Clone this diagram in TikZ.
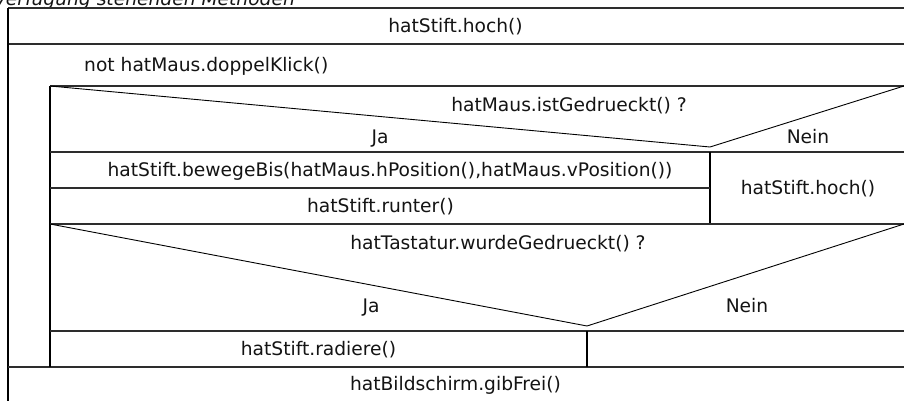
\documentclass[tikz,border=0pt]{standalone}
\usepackage{fontspec}
\setmainfont{DejaVu Sans}
\begin{document}
\begin{tikzpicture}[x=1pt,y=-1pt,
  frame/.style={line width=1.3pt,draw={rgb,255:red,45;green,45;blue,45}},
  vline/.style={line width=1.2pt,draw=black},
  diag/.style={line width=0.9pt,draw=black},
  txt/.style={anchor=base,inner sep=0pt,font=\fontsize{18.67}{22}\selectfont,text={rgb,255:red,20;green,20;blue,20}},
  txtl/.style={txt,anchor=base west}]
\useasboundingbox (0,0) rectangle (904,401);
\clip (0,0) rectangle (904,401);
\fill[white] (0,0) rectangle (904,401);
% header text (cut off)
\node[txt,anchor=base west,font=\fontsize{18.67}{22}\selectfont\itshape] (hdr) at (-6,5.5) {Verfügung stehenden Methoden};
% outer frame
\draw[frame] (8,8) -- (905,8);
\draw[frame] (8,44) -- (905,44);
\draw[vline] (8,8) -- (8,402);
\draw[frame] (8,367) -- (905,367);
% loop body left edge
\draw[vline] (50,86) -- (50,367);
% first if
\draw[frame] (50,86) -- (905,86);
\draw[diag] (50,86) -- (710,147) -- (904,86);
\draw[frame] (50,152) -- (905,152);
\draw[vline] (710,152) -- (710,224);
\draw[frame] (50,188) -- (710,188);
\draw[frame] (50,224) -- (905,224);
% second if
\draw[diag] (50,224) -- (587,326) -- (904,224);
\draw[frame] (50,331) -- (905,331);
\draw[vline] (587,331) -- (587,367);
% texts
\node[txt] (t1) at (455.5,32.8) {hatStift.hoch()};
\node[txtl] (loop) at (84,72) {not hatMaus.doppelKlick()};
\node[txt] (c1) at (569,111) {hatMaus.istGedrueckt() ?};
\node[txt] (ja1) at (380,143) {Ja};
\node[txt] (nein1) at (808,143) {Nein};
\node[txt] (s1) at (390,176) {hatStift.bewegeBis(hatMaus.hPosition(),hatMaus.vPosition())};
\node[txt] (s2) at (380.5,212.8) {hatStift.runter()};
\node[txt] (s3) at (808,194.8) {hatStift.hoch()};
\node[txt] (c2) at (498,249) {hatTastatur.wurdeGedrueckt() ?};
\node[txt] (ja2) at (371,312) {Ja};
\node[txt] (nein2) at (747,312) {Nein};
\node[txt] (s4) at (318.5,355.8) {hatStift.radiere()};
\node[txt] (s5) at (455.5,390) {hatBildschirm.gibFrei()};
\end{tikzpicture}
\end{document}
